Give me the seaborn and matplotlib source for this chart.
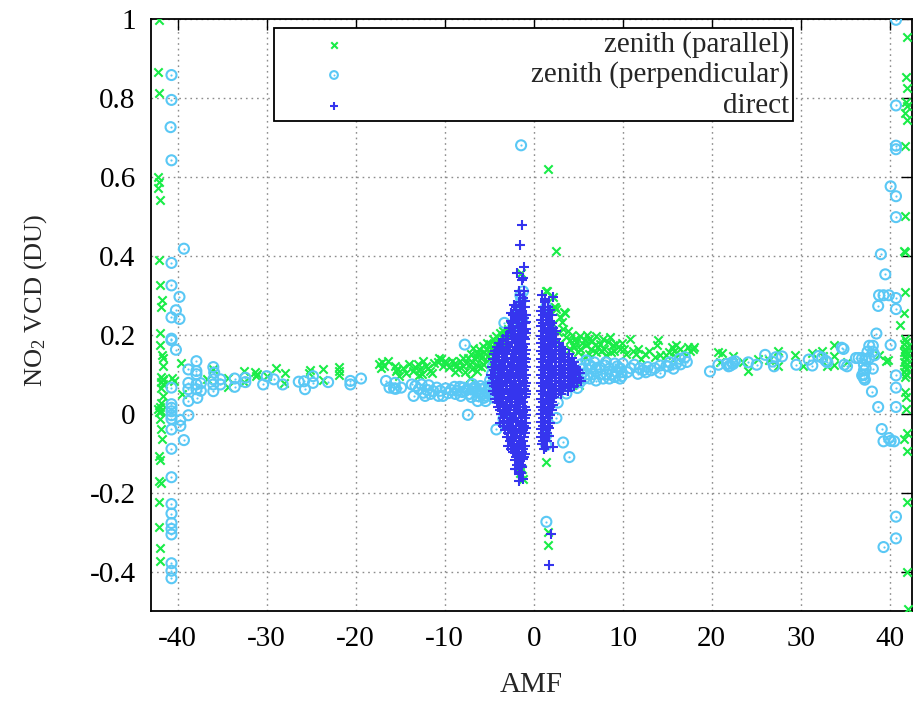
import matplotlib
matplotlib.use("Agg")
import matplotlib.pyplot as plt
import numpy as np
import pandas as pd
import seaborn as sns
from matplotlib.ticker import FuncFormatter, MultipleLocator
from matplotlib.patches import Rectangle

# ---------------- data (AMF, NO2 VCD in DU) ----------------
par_left_edge = [
    (-42.1, 0.998), (-42.2, 0.865), (-42.1, 0.812), (-42.2, 0.600), (-42.1, 0.588),
    (-42.2, 0.573), (-42.0, 0.541), (-42.1, 0.389), (-42.0, 0.327), (-41.8, 0.288),
    (-41.9, 0.271), (-42.0, 0.205), (-42.0, 0.173), (-41.8, 0.149), (-41.7, 0.142),
    (-41.7, 0.122), (-41.9, 0.092), (-41.7, 0.088), (-41.6, 0.085), (-41.9, 0.080),
    (-41.7, 0.076), (-41.9, 0.066), (-41.7, 0.045), (-41.9, 0.028), (-42.0, 0.018),
    (-42.2, 0.013), (-41.9, 0.008), (-42.1, 0.003), (-42.0, -0.014), (-41.9, -0.040),
    (-41.8, -0.063), (-42.1, -0.108), (-42.0, -0.118), (-42.1, -0.171), (-41.9, -0.176),
    (-42.1, -0.224), (-42.1, -0.287), (-42.0, -0.340), (-42.0, -0.374),
    (-39.6, 0.129), (-40.4, 0.083), (-39.5, 0.049), (-40.6, 0.090),
]
par_left_tail = [
    (-36.7, 0.087), (-36.0, 0.114), (-34.3, 0.091), (-34.3, 0.068), (-32.6, 0.108),
    (-32.5, 0.080), (-31.3, 0.105), (-31.1, 0.100), (-31.2, 0.095), (-30.0, 0.095),
    (-28.9, 0.116), (-28.0, 0.104), (-28.1, 0.077), (-25.1, 0.110), (-25.3, 0.104),
    (-23.7, 0.114), (-23.7, 0.085), (-21.9, 0.119), (-21.9, 0.108), (-21.9, 0.097),
    (-17.4, 0.125), (-17.2, 0.115), (-17.0, 0.130), (-16.4, 0.133), (-16.8, 0.120),
    (-15.6, 0.120), (-15.5, 0.108), (-15.4, 0.112), (-14.7, 0.116), (-15.1, 0.095),
    (-14.3, 0.104), (-13.6, 0.108),
]
par_center_left = [
    (-13.0, 0.125), (-12.8, 0.112), (-12.4, 0.133), (-12.1, 0.121), (-12.6, 0.100),
    (-11.7, 0.108), (-11.2, 0.128), (-10.4, 0.138), (-10.0, 0.133), (-10.6, 0.142),
    (-10.2, 0.121), (-9.5, 0.118), (-8.9, 0.129), (-8.3, 0.133), (-7.6, 0.129),
    (-8.5, 0.112), (-7.9, 0.121), (-7.0, 0.150), (-6.4, 0.154), (-6.1, 0.163),
    (-5.7, 0.171), (-5.3, 0.163), (-4.9, 0.176), (-4.6, 0.188), (-4.2, 0.197),
    (-4.0, 0.184), (-6.6, 0.138), (-6.3, 0.121), (-5.9, 0.142), (-5.3, 0.133),
    (-7.2, 0.091), (-3.3, 0.200), (-3.6, 0.192), (-6.8, 0.167), (-7.2, 0.125),
    (-4.9, 0.154), (-4.6, 0.146), (-5.7, 0.125), (-6.4, 0.108), (-3.8, 0.205),
    (-2.7, 0.224), (-2.1, 0.240), (-2.9, 0.215), (-3.4, 0.210), (-2.5, 0.230),
    (-1.45, 0.356), (-1.31, -0.139), (-1.24, -0.166), (-1.5, -0.150),
    (-14.0, 0.125), (-13.3, 0.118), (-12.9, 0.098), (-11.9, 0.115), (-11.4, 0.104),
    (-10.8, 0.130), (-9.8, 0.128), (-9.2, 0.134), (-8.7, 0.122), (-8.0, 0.140),
    (-7.4, 0.140), (-6.9, 0.132), (-6.5, 0.145), (-6.0, 0.152), (-5.6, 0.155),
    (-5.2, 0.180), (-4.8, 0.165), (-4.4, 0.176), (-4.1, 0.170), (-3.7, 0.185),
    (-3.5, 0.170), (-3.1, 0.190), (-2.9, 0.200), (-7.7, 0.106), (-6.9, 0.113),
    (-5.9, 0.118), (-5.1, 0.145), (-8.8, 0.105),
]
par_center_right = [
    (1.61, 0.621), (2.55, 0.412), (1.5, 0.310), (2.3, 0.270), (1.42, -0.122),
    (1.60, -0.301), (1.65, -0.332), (1.42, 0.310), (2.17, 0.295), (2.36, 0.270),
    (2.55, 0.264), (3.48, 0.256), (2.17, 0.228), (2.73, 0.207), (3.30, 0.215),
    (3.67, 0.194), (4.04, 0.186), (4.42, 0.173), (4.80, 0.181), (5.17, 0.198),
    (5.73, 0.186), (5.92, 0.173), (6.48, 0.165), (7.04, 0.198), (7.42, 0.177),
    (7.79, 0.190), (8.35, 0.181), (8.91, 0.173), (9.29, 0.177), (8.73, 0.156),
    (9.66, 0.165), (6.85, 0.173), (7.60, 0.160), (8.16, 0.148), (5.17, 0.165),
    (4.04, 0.165), (5.73, 0.143), (10.8, 0.190), (11.2, 0.160), (11.5, 0.152),
    (11.7, 0.165), (12.1, 0.139), (10.4, 0.152), (14.0, 0.186), (13.8, 0.173),
    (13.6, 0.143), (14.2, 0.148), (14.9, 0.148), (15.8, 0.160), (16.0, 0.173),
    (16.4, 0.165), (16.8, 0.156), (17.3, 0.169), (17.9, 0.165), (16.0, 0.143),
    (5.10, 0.072), (3.37, 0.257), (6.2, 0.190), (3.0, 0.180),
    (2.9, 0.245), (3.2, 0.232), (3.9, 0.210), (4.3, 0.200), (4.6, 0.190),
    (5.4, 0.178), (6.0, 0.200), (6.6, 0.185), (7.2, 0.170), (7.9, 0.165),
    (8.6, 0.195), (9.0, 0.160), (9.9, 0.180), (10.1, 0.165), (12.5, 0.150),
    (13.0, 0.160), (15.2, 0.155), (15.5, 0.170), (17.6, 0.160), (18.0, 0.170),
    (6.2, 0.150), (7.0, 0.155), (5.0, 0.155), (4.5, 0.170),
]
par_right_tail = [
    (20.7, 0.157), (21.1, 0.154), (20.9, 0.132), (22.4, 0.145), (23.5, 0.132),
    (24.1, 0.107), (25.2, 0.138), (26.4, 0.137), (27.5, 0.158), (27.4, 0.122),
    (29.3, 0.149), (30.3, 0.120), (31.3, 0.154), (32.4, 0.158), (32.5, 0.145),
    (32.9, 0.120), (33.7, 0.175), (33.7, 0.147), (33.7, 0.124), (35.2, 0.132),
    (38.8, 0.148), (39.6, 0.133), (39.8, 0.135),
]
par_right_edge = [
    (41.9, 0.955), (41.8, 0.853), (41.9, 0.824), (41.8, 0.790), (41.9, 0.779),
    (41.7, 0.763), (41.9, 0.744), (41.7, 0.678), (41.7, 0.500), (41.6, 0.413),
    (41.7, 0.409), (41.7, 0.309), (41.6, 0.256), (41.2, 0.225), (41.7, 0.190),
    (41.8, 0.182), (41.6, 0.176), (41.9, 0.170), (41.7, 0.165), (41.8, 0.160),
    (41.6, 0.155), (41.9, 0.150), (41.7, 0.145), (41.8, 0.138), (41.6, 0.130),
    (41.9, 0.125), (41.7, 0.120), (41.8, 0.112), (41.6, 0.106), (41.8, 0.100),
    (41.7, 0.092), (41.7, 0.056), (41.8, 0.042), (41.8, 0.013), (41.9, -0.050),
    (41.6, -0.065), (41.9, -0.094), (41.9, -0.224), (41.9, -0.400), (42.0, -0.495),
]

perp_left_edge = [
    (-40.7, 0.858), (-40.7, 0.795), (-40.8, 0.726), (-40.7, 0.642), (-40.7, 0.382),
    (-39.3, 0.418), (-40.7, 0.325), (-39.8, 0.296), (-40.2, 0.262), (-39.8, 0.240),
    (-40.7, 0.244), (-40.7, 0.190), (-40.2, 0.162), (-40.7, 0.186), (-40.7, 0.066),
    (-40.7, 0.024), (-40.7, 0.015), (-40.7, 0.006), (-40.7, -0.004), (-40.7, -0.013),
    (-40.7, -0.040), (-39.7, -0.016), (-39.7, -0.031), (-39.3, -0.067), (-40.7, -0.089),
    (-40.7, -0.161), (-40.7, -0.229), (-40.7, -0.253), (-40.7, -0.277), (-40.7, -0.292),
    (-40.7, -0.306), (-40.7, -0.379), (-40.7, -0.398), (-40.7, -0.417),
]
perp_left_tail = [
    (-38.8, 0.112), (-38.8, 0.078), (-38.8, 0.062), (-38.8, 0.032), (-38.8, -0.004),
    (-37.9, 0.133), (-37.9, 0.108), (-37.9, 0.100), (-37.9, 0.074), (-37.9, 0.062),
    (-37.8, 0.040), (-37.4, 0.077), (-37.4, 0.058), (-36.0, 0.118), (-35.9, 0.104),
    (-36.0, 0.087), (-36.0, 0.074), (-36.0, 0.057), (-35.2, 0.087), (-35.2, 0.074),
    (-33.6, 0.089), (-33.6, 0.068), (-32.4, 0.091), (-32.4, 0.080), (-30.0, 0.095),
    (-30.4, 0.074), (-29.2, 0.087), (-28.2, 0.074), (-26.4, 0.081), (-25.8, 0.082),
    (-25.7, 0.062), (-24.8, 0.095), (-24.8, 0.078), (-23.1, 0.080), (-20.6, 0.083),
    (-20.6, 0.074), (-19.4, 0.089), (-16.6, 0.083), (-15.6, 0.078), (-15.5, 0.063),
]
perp_center_left = [
    (-16.2, 0.066), (-15.7, 0.064), (-14.9, 0.066), (-13.7, 0.074), (-13.3, 0.070),
    (-12.6, 0.074), (-13.5, 0.045), (-12.4, 0.053), (-10.9, 0.066), (-10.7, 0.045),
    (-10.2, 0.045), (-11.3, 0.057), (-12.0, 0.060), (-11.8, 0.072), (-9.3, 0.060),
    (-8.9, 0.068), (-8.3, 0.068), (-7.9, 0.066), (-7.4, 0.062), (-6.8, 0.063),
    (-6.5, 0.057), (-6.1, 0.053), (-5.8, 0.049), (-5.4, 0.045), (-5.0, 0.049),
    (-6.3, 0.032), (-5.4, 0.032), (-8.6, 0.058), (-8.0, 0.055), (-7.2, 0.050),
    (-6.9, 0.075), (-6.0, 0.070), (-5.5, 0.065), (-4.8, 0.060), (-4.6, 0.075),
    (-4.4, 0.090), (-4.5, 0.040), (-7.75, 0.175), (-7.4, -0.003), (-4.2, -0.040),
    (-3.3, 0.230), (-3.4, -0.013), (-1.76, -0.097), (-1.57, 0.257), (-1.3, 0.240),
    (-1.5, 0.220), (-1.2, 0.310), (-1.4, 0.290), (-1.42, 0.680), (-1.5, 0.300),
    (-12.9, 0.062), (-12.2, 0.045), (-11.6, 0.050), (-10.5, 0.058), (-9.9, 0.064),
    (-9.6, 0.052), (-8.8, 0.050), (-8.2, 0.045), (-7.7, 0.058), (-7.0, 0.042),
    (-6.6, 0.068), (-6.3, 0.045), (-5.9, 0.062), (-5.6, 0.040), (-5.2, 0.058),
    (-5.0, 0.070), (-4.7, 0.050), (-4.9, 0.085), (-4.7, 0.100), (-4.6, 0.120),
]
perp_center_right = [
    (1.4, 0.270), (1.42, -0.274), (1.4, -0.055), (1.4, -0.080), (3.67, 0.051),
    (2.7, 0.028), (2.55, -0.011), (3.3, -0.073), (4.0, -0.110), (5.9, 0.135),
    (6.5, 0.118), (7.0, 0.114), (7.4, 0.118), (8.0, 0.122), (8.5, 0.114),
    (9.1, 0.127), (9.3, 0.105), (9.7, 0.114), (9.85, 0.105), (10.0, 0.127),
    (6.3, 0.089), (7.0, 0.084), (7.8, 0.089), (8.5, 0.089), (9.1, 0.093),
    (9.7, 0.089), (5.5, 0.114), (5.4, 0.101), (5.7, 0.089), (6.0, 0.100),
    (11.3, 0.124), (11.7, 0.101), (12.3, 0.110), (12.8, 0.118), (13.2, 0.110),
    (14.2, 0.104), (14.2, 0.122), (14.9, 0.121), (15.7, 0.114), (16.0, 0.127),
    (16.4, 0.139), (17.0, 0.143), (17.2, 0.131), (19.8, 0.107),
    (5.3, 0.125), (6.2, 0.125), (6.8, 0.130), (6.7, 0.100), (7.5, 0.100),
    (8.2, 0.100), (8.8, 0.100), (9.4, 0.120), (8.1, 0.130), (9.9, 0.095),
    (10.5, 0.105), (10.9, 0.115), (11.9, 0.115), (12.6, 0.105), (13.6, 0.115),
    (15.1, 0.120), (15.3, 0.130), (16.5, 0.125), (5.2, 0.080), (4.9, 0.065),
    (4.6, 0.090),
]
perp_right_tail = [
    (20.75, 0.124), (21.7, 0.126), (21.9, 0.120), (22.1, 0.122), (22.4, 0.126),
    (22.3, 0.130), (22.6, 0.133), (24.1, 0.130), (25.05, 0.124), (26.0, 0.149),
    (26.8, 0.132), (27.0, 0.120), (27.2, 0.143), (27.9, 0.145), (29.5, 0.124),
    (30.9, 0.137), (31.3, 0.122), (32.0, 0.146), (32.4, 0.142), (32.8, 0.134),
    (33.0, 0.130), (34.8, 0.164), (35.2, 0.120), (34.9, 0.124), (34.6, 0.167),
    (36.2, 0.141), (36.5, 0.141), (36.9, 0.141), (37.3, 0.138), (37.7, 0.141),
    (37.1, 0.124), (37.3, 0.114), (38.1, 0.114), (36.9, 0.097), (37.1, 0.090),
    (37.7, 0.172), (38.1, 0.172), (37.5, 0.157), (38.1, 0.157), (38.3, 0.148),
    (37.1, 0.110), (37.1, 0.099), (37.2, 0.086), (38.5, 0.203), (38.0, 0.056),
    (38.7, 0.017), (39.1, -0.039), (39.3, -0.070), (39.9, -0.062), (40.1, -0.069),
    (40.5, -0.070), (39.3, -0.338), (38.7, 0.273), (38.8, 0.300), (39.3, 0.300),
    (39.9, 0.300), (39.0, 0.404), (39.5, 0.353),
]
perp_right_edge = [
    (40.7, 0.998), (40.7, 0.781), (40.7, 0.679), (40.7, 0.670), (40.1, 0.576),
    (40.7, 0.551), (40.7, 0.498), (40.7, 0.293), (40.7, 0.265), (40.1, 0.174),
    (40.7, 0.097), (40.7, 0.066), (40.7, 0.017), (40.7, -0.261), (40.7, -0.316),
]

direct_left = [
    (-1.31, 0.478), (-1.57, 0.427), (-1.10, 0.372), (-1.90, 0.356), (-1.20, 0.345),
    (-1.27, 0.338), (-1.65, 0.312), (-1.22, 0.292), (-1.55, 0.300), (-1.05, 0.310),
    (-2.2, 0.275), (-1.7, 0.282), (-1.25, 0.270), (-0.95, 0.285),
    (-2.5, 0.255), (-2.0, 0.262), (-1.5, 0.258), (-1.05, 0.250),
    (-2.6, 0.236), (-2.1, 0.244), (-1.6, 0.238), (-1.1, 0.242), (-0.85, 0.232),
    (-2.8, 0.218), (-2.3, 0.222), (-1.8, 0.216), (-1.3, 0.224), (-0.9, 0.214),
    (-3.1, 0.198), (-2.6, 0.204), (-2.1, 0.196), (-1.6, 0.202), (-1.1, 0.195), (-0.85, 0.205),
    (-3.9, 0.178), (-3.4, 0.184), (-2.9, 0.176), (-2.4, 0.182), (-1.9, 0.178), (-1.4, 0.184),
    (-0.95, 0.176),
    (-4.3, 0.158), (-3.8, 0.164), (-3.3, 0.156), (-2.8, 0.162), (-2.3, 0.158), (-1.8, 0.164),
    (-1.3, 0.156), (-0.9, 0.162),
    (-4.6, 0.138), (-4.1, 0.144), (-3.6, 0.136), (-3.1, 0.142), (-2.6, 0.138), (-2.1, 0.144),
    (-1.6, 0.136), (-1.1, 0.142), (-0.85, 0.138),
    (-4.7, 0.118), (-4.2, 0.124), (-3.7, 0.116), (-3.2, 0.122), (-2.7, 0.118), (-2.2, 0.124),
    (-1.7, 0.116), (-1.2, 0.122), (-0.9, 0.118),
    (-4.8, 0.098), (-4.3, 0.104), (-3.8, 0.096), (-3.3, 0.102), (-2.8, 0.098), (-2.3, 0.104),
    (-1.8, 0.096), (-1.3, 0.102), (-0.85, 0.098),
    (-4.7, 0.078), (-4.2, 0.084), (-3.7, 0.076), (-3.2, 0.082), (-2.7, 0.078), (-2.2, 0.084),
    (-1.7, 0.076), (-1.2, 0.082), (-0.9, 0.078),
    (-4.6, 0.058), (-4.1, 0.064), (-3.6, 0.056), (-3.1, 0.062), (-2.6, 0.058), (-2.1, 0.064),
    (-1.6, 0.056), (-1.1, 0.062), (-0.85, 0.058),
    (-4.4, 0.038), (-3.9, 0.044), (-3.4, 0.036), (-2.9, 0.042), (-2.4, 0.038), (-1.9, 0.044),
    (-1.4, 0.036), (-0.95, 0.042),
    (-4.0, 0.018), (-3.5, 0.024), (-3.0, 0.016), (-2.5, 0.022), (-2.0, 0.018), (-1.5, 0.024),
    (-1.0, 0.016),
    (-3.7, -0.002), (-3.2, 0.004), (-2.7, -0.004), (-2.2, 0.002), (-1.7, -0.002), (-1.2, 0.004),
    (-0.85, -0.004),
    (-3.8, -0.023), (-3.3, -0.018), (-2.8, -0.024), (-2.3, -0.016), (-1.8, -0.022), (-1.3, -0.018),
    (-0.9, -0.024),
    (-3.2, -0.042), (-2.7, -0.036), (-2.2, -0.044), (-1.7, -0.038), (-1.2, -0.042), (-0.9, -0.036),
    (-3.0, -0.058), (-2.5, -0.064), (-2.0, -0.056), (-1.5, -0.062), (-1.05, -0.058),
    (-2.9, -0.082), (-2.4, -0.078), (-1.9, -0.084), (-1.4, -0.076), (-1.0, -0.082),
    (-2.3, -0.098), (-1.8, -0.104), (-1.3, -0.096), (-0.95, -0.102),
    (-2.1, -0.118), (-1.6, -0.124), (-1.15, -0.116),
    (-2.06, -0.139), (-1.30, -0.135), (-1.70, -0.154), (-1.45, -0.150), (-1.70, -0.171),
    (-1.20, -0.165), (-1.95, -0.139), (-1.57, -0.148), (-2.6, -0.082),
]
direct_left_fill = [
    (-2.0, 0.27), (-1.45, 0.27), (-1.0, 0.27),
    (-2.3, 0.25), (-1.8, 0.25), (-1.3, 0.25), (-0.9, 0.25),
    (-2.45, 0.23), (-1.85, 0.23), (-1.35, 0.23), (-0.95, 0.23),
    (-2.55, 0.21), (-2.05, 0.21), (-1.55, 0.21), (-1.05, 0.21),
    (-3.4, 0.19), (-2.85, 0.19), (-2.35, 0.19), (-1.85, 0.19), (-1.35, 0.19), (-0.95, 0.19),
    (-4.15, 0.17), (-3.65, 0.17), (-3.15, 0.17), (-2.65, 0.17), (-2.15, 0.17), (-1.65, 0.17),
    (-1.15, 0.17),
    (-4.45, 0.15), (-3.95, 0.15), (-3.45, 0.15), (-2.95, 0.15), (-2.45, 0.15), (-1.95, 0.15),
    (-1.45, 0.15), (-1.0, 0.15),
    (-4.4, 0.13), (-3.9, 0.13), (-3.4, 0.13), (-2.9, 0.13), (-2.4, 0.13), (-1.9, 0.13),
    (-1.4, 0.13), (-1.0, 0.13),
    (-4.5, 0.11), (-4.0, 0.11), (-3.5, 0.11), (-3.0, 0.11), (-2.5, 0.11), (-2.0, 0.11),
    (-1.5, 0.11), (-1.05, 0.11),
    (-4.55, 0.09), (-4.05, 0.09), (-3.55, 0.09), (-3.05, 0.09), (-2.55, 0.09), (-2.05, 0.09),
    (-1.55, 0.09), (-1.05, 0.09),
    (-4.45, 0.07), (-3.95, 0.07), (-3.45, 0.07), (-2.95, 0.07), (-2.45, 0.07), (-1.95, 0.07),
    (-1.45, 0.07), (-1.0, 0.07),
    (-4.3, 0.05), (-3.8, 0.05), (-3.3, 0.05), (-2.8, 0.05), (-2.3, 0.05), (-1.8, 0.05),
    (-1.3, 0.05), (-0.9, 0.05),
    (-4.15, 0.03), (-3.65, 0.03), (-3.15, 0.03), (-2.65, 0.03), (-2.15, 0.03), (-1.65, 0.03),
    (-1.15, 0.03),
    (-3.75, 0.01), (-3.25, 0.01), (-2.75, 0.01), (-2.25, 0.01), (-1.75, 0.01), (-1.25, 0.01),
    (-0.9, 0.01),
    (-3.45, -0.01), (-2.95, -0.01), (-2.45, -0.01), (-1.95, -0.01), (-1.45, -0.01), (-1.0, -0.01),
    (-3.5, -0.03), (-3.0, -0.03), (-2.5, -0.03), (-2.0, -0.03), (-1.5, -0.03), (-1.05, -0.03),
    (-2.9, -0.05), (-2.4, -0.05), (-1.9, -0.05), (-1.4, -0.05), (-0.95, -0.05),
    (-2.7, -0.07), (-2.2, -0.07), (-1.7, -0.07), (-1.2, -0.07),
    (-2.6, -0.09), (-2.1, -0.09), (-1.6, -0.09), (-1.15, -0.09),
    (-2.0, -0.11), (-1.5, -0.11), (-1.05, -0.11),
    (-1.85, -0.13), (-1.4, -0.13),
]
direct_right = [
    (1.30, 0.290), (0.90, 0.300), (1.20, 0.270), (2.20, 0.295), (1.30, 0.285), (1.24, 0.283),
    (0.80, 0.260), (1.30, 0.255), (1.80, 0.262),
    (0.85, 0.238), (1.35, 0.244), (1.85, 0.236),
    (0.80, 0.222), (1.30, 0.216), (1.80, 0.224), (2.20, 0.218),
    (0.85, 0.198), (1.35, 0.204), (1.85, 0.196), (2.30, 0.202),
    (0.80, 0.178), (1.30, 0.184), (1.80, 0.176), (2.30, 0.182), (2.80, 0.178),
    (0.85, 0.158), (1.35, 0.164), (1.85, 0.156), (2.35, 0.162), (2.85, 0.158), (3.30, 0.164),
    (0.80, 0.138), (1.30, 0.144), (1.80, 0.136), (2.30, 0.142), (2.80, 0.138), (3.30, 0.144),
    (3.80, 0.136), (4.30, 0.142),
    (0.85, 0.118), (1.35, 0.124), (1.85, 0.116), (2.35, 0.122), (2.85, 0.118), (3.35, 0.124),
    (3.85, 0.116), (4.35, 0.122), (4.80, 0.118),
    (0.80, 0.098), (1.30, 0.104), (1.80, 0.096), (2.30, 0.102), (2.80, 0.098), (3.30, 0.104),
    (3.80, 0.096), (4.30, 0.102), (4.80, 0.098), (5.20, 0.104),
    (0.85, 0.078), (1.35, 0.084), (1.85, 0.076), (2.35, 0.082), (2.85, 0.078), (3.35, 0.084),
    (3.85, 0.076), (4.35, 0.082), (4.85, 0.078), (5.30, 0.082),
    (0.80, 0.058), (1.30, 0.064), (1.80, 0.056), (2.30, 0.062), (2.80, 0.058), (3.30, 0.064),
    (3.80, 0.058), (4.20, 0.067),
    (0.85, 0.038), (1.35, 0.044), (1.85, 0.036), (2.30, 0.042),
    (0.80, 0.018), (1.30, 0.024), (1.80, 0.016), (2.20, 0.022),
    (0.85, -0.002), (1.35, 0.004), (1.85, -0.004),
    (0.80, -0.022), (1.30, -0.018), (1.80, -0.024),
    (0.85, -0.038), (1.35, -0.042), (1.75, -0.036),
    (0.80, -0.058), (1.30, -0.064), (1.70, -0.056),
    (0.90, -0.078), (1.35, -0.084), (1.10, -0.089), (2.20, -0.084),
    (1.98, -0.305), (1.69, -0.384),
]
direct_right_fill = [
    (1.05, 0.27), (1.55, 0.27),
    (1.05, 0.25), (1.55, 0.25), (2.0, 0.25),
    (1.05, 0.23), (1.55, 0.23), (2.05, 0.23),
    (1.05, 0.21), (1.55, 0.21), (2.0, 0.21), (2.5, 0.21),
    (1.05, 0.19), (1.55, 0.19), (2.05, 0.19), (2.55, 0.19),
    (1.05, 0.17), (1.55, 0.17), (2.05, 0.17), (2.55, 0.17), (3.05, 0.17),
    (1.05, 0.15), (1.55, 0.15), (2.05, 0.15), (2.55, 0.15), (3.05, 0.15), (3.55, 0.15),
    (4.0, 0.15),
    (1.05, 0.13), (1.55, 0.13), (2.05, 0.13), (2.55, 0.13), (3.05, 0.13), (3.55, 0.13),
    (4.05, 0.13), (4.55, 0.13),
    (1.05, 0.11), (1.55, 0.11), (2.05, 0.11), (2.55, 0.11), (3.05, 0.11), (3.55, 0.11),
    (4.05, 0.11), (4.55, 0.11), (5.0, 0.11),
    (1.05, 0.09), (1.55, 0.09), (2.05, 0.09), (2.55, 0.09), (3.05, 0.09), (3.55, 0.09),
    (4.05, 0.09), (4.55, 0.09), (5.05, 0.09),
    (1.05, 0.07), (1.55, 0.07), (2.05, 0.07), (2.55, 0.07), (3.05, 0.07), (3.55, 0.07),
    (4.05, 0.07), (4.55, 0.07),
    (1.05, 0.05), (1.55, 0.05), (2.05, 0.05), (2.55, 0.05), (3.05, 0.05),
    (1.05, 0.03), (1.55, 0.03), (2.05, 0.03),
    (1.05, 0.01), (1.55, 0.01), (2.0, 0.01),
    (1.05, -0.01), (1.55, -0.01),
    (1.05, -0.03), (1.55, -0.03),
    (1.05, -0.05), (1.5, -0.05),
    (1.05, -0.07), (1.5, -0.07),
]

GREEN = "#19ec47"
LIGHT = "#5ac8f5"
BLUE = "#3535ee"

def frame(*parts):
    pts = [p for part in parts for p in part]
    return pd.DataFrame(pts, columns=["AMF", "VCD"])

df_par = frame(par_left_edge, par_left_tail, par_center_left, par_center_right,
               par_right_tail, par_right_edge)
df_perp = frame(perp_left_edge, perp_left_tail, perp_center_left, perp_center_right,
                perp_right_tail, perp_right_edge)
df_dir = frame(direct_left, direct_left_fill, direct_right, direct_right_fill)

# ---------------- styling ----------------
sns.set_theme(style="white")
plt.rcParams["font.family"] = ["Liberation Serif", "DejaVu Serif"]
plt.rcParams["mathtext.fontset"] = "custom"
plt.rcParams["mathtext.rm"] = "Liberation Serif"
plt.rcParams["mathtext.it"] = "Liberation Serif:italic"

FS = 21
S_X, S_O, S_P = 36, 52, 62
LW = 1.5
fig = plt.figure(figsize=(9.15, 7.02), dpi=100)
L, R, T, B = 151, 912, 19, 611
ax = fig.add_axes([L / 915, 1 - B / 702, (R - L) / 915, (B - T) / 702])

sns.scatterplot(data=df_par, x="AMF", y="VCD", marker="x", color=GREEN, s=S_X,
                linewidth=LW, ax=ax, legend=False, zorder=3)
sns.scatterplot(data=df_perp, x="AMF", y="VCD", marker="o", facecolor="none",
                edgecolor=LIGHT, s=S_O, linewidth=LW, ax=ax, legend=False, zorder=4)
sns.scatterplot(data=df_perp, x="AMF", y="VCD", marker="o", color=LIGHT, s=2.5,
                linewidth=0, ax=ax, legend=False, zorder=4)
sns.scatterplot(data=df_dir, x="AMF", y="VCD", marker="+", color=BLUE, s=S_P,
                linewidth=LW, ax=ax, legend=False, zorder=5)

ax.set_xlim(-43, 42.5)
ax.set_ylim(-0.5, 1.0)
ax.xaxis.set_major_locator(MultipleLocator(10))
ax.yaxis.set_major_locator(MultipleLocator(0.2))
ax.yaxis.set_major_formatter(FuncFormatter(lambda v, p: "%g" % round(v, 6)))
ax.xaxis.set_major_formatter(FuncFormatter(lambda v, p: "%g" % round(v, 6)))

ax.grid(True, color="#8c8c8c", linestyle=(0, (1.2, 2.8)), linewidth=1.0)
ax.set_axisbelow(True)
for sp in ax.spines.values():
    sp.set_visible(True)
    sp.set_color("black")
    sp.set_linewidth(1.3)
ax.tick_params(direction="in", length=8, width=1.0, top=True, right=True,
               labelsize=FS, colors="black", pad=11)

def ax_xy(px, py):
    return (px - L) / (R - L), (B - py) / (B - T)

ax.set_xlabel("AMF", fontsize=FS, labelpad=14)
ax.set_ylabel("NO$_2$ VCD (DU)", fontsize=19, va="center", ha="center")
lx, ly = ax_xy(36, 300)
ax.yaxis.set_label_coords(lx, ly)

# legend box (gnuplot style: sample on the left, right-aligned text)
x0, y1 = ax_xy(274, 28)
x1, y0 = ax_xy(793, 121)
ax.add_patch(Rectangle((x0, y0), x1 - x0, y1 - y0, transform=ax.transAxes,
                       facecolor="white", edgecolor="black", linewidth=1.3, zorder=10))
labels = ["zenith (parallel)", "zenith (perpendicular)", "direct"]
rows = [45, 75, 106]
mx, _ = ax_xy(334, 0)
tx, _ = ax_xy(789, 0)
for lab, py in zip(labels, rows):
    _, yy = ax_xy(0, py)
    ax.text(tx, yy, lab, transform=ax.transAxes, ha="right", va="center",
            fontsize=FS, zorder=11)
_, ya = ax_xy(0, rows[0])
_, yb = ax_xy(0, rows[1])
_, yc = ax_xy(0, rows[2])
ax.scatter([mx], [ya], marker="x", color=GREEN, s=S_X * 0.6, linewidth=LW,
           transform=ax.transAxes, zorder=12)
ax.scatter([mx], [yb], marker="o", facecolor="none", edgecolor=LIGHT, s=S_O * 0.6,
           linewidth=LW, transform=ax.transAxes, zorder=12)
ax.scatter([mx], [yb], marker="o", color=LIGHT, s=2, linewidth=0,
           transform=ax.transAxes, zorder=12)
ax.scatter([mx], [yc], marker="+", color=BLUE, s=S_P * 0.6, linewidth=LW,
           transform=ax.transAxes, zorder=12)

fig.savefig("out.png", dpi=100)
